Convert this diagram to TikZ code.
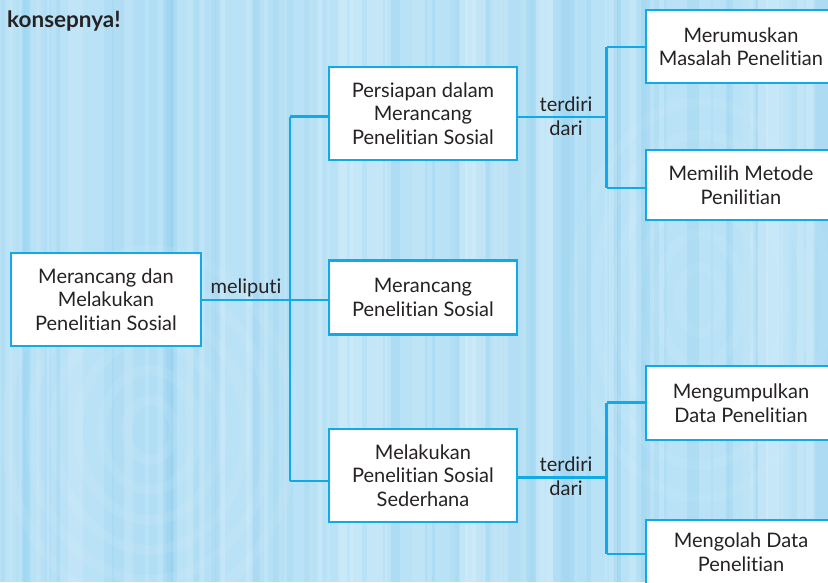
\documentclass[tikz,border=0pt]{standalone}
\usepackage{fontspec}
\setmainfont{Lato}[Ligatures={NoCommon,NoRequired,NoContextual}]
\definecolor{paper}{RGB}{186,226,246}
\definecolor{grain}{RGB}{135,203,238}
\definecolor{grainlight}{RGB}{220,241,251}
\definecolor{edge}{RGB}{16,170,232}
\definecolor{ink}{RGB}{38,34,35}
\begin{document}
\begin{tikzpicture}[x=1pt,y=-1pt,
  box/.style={draw=edge, line width=2.6pt, fill=white, align=center, text=ink,
    font=\fontsize{20}{23.5}\selectfont, inner sep=0pt},
  link/.style={draw=edge, line width=2.6pt},
  tag/.style={align=center, text=ink, font=\fontsize{20}{24.5}\selectfont, inner sep=0pt}]
% page and wood-grain background
\useasboundingbox (0,0) rectangle (828,582);
\clip (0,0) rectangle (828,582);
\fill[paper] (0,0) rectangle (828,582);
\pgfmathsetseed{11}
\foreach \i in {1,...,70}{
  \pgfmathsetmacro\xx{rnd*828}
  \pgfmathsetmacro\ww{2+rnd*14}
  \pgfmathsetmacro\oo{0.10+rnd*0.18}
  \fill[grain, opacity=\oo] (\xx,0) rectangle ++(\ww,582);
}
\foreach \i in {1,...,40}{
  \pgfmathsetmacro\xx{rnd*828}
  \pgfmathsetmacro\ww{3+rnd*18}
  \pgfmathsetmacro\oo{0.15+rnd*0.25}
  \fill[grainlight, opacity=\oo] (\xx,0) rectangle ++(\ww,582);
}
\foreach \r in {30,60,...,180}{
  \draw[grainlight, line width=10pt, opacity=0.12] (150,430) ellipse ({\r*0.8} and \r);
  \draw[grainlight, line width=10pt, opacity=0.10] (700,300) ellipse ({\r*0.7} and {\r*1.1});
}

% heading fragment
\node[anchor=base west, text=ink, font=\fontsize{22.5}{26}\selectfont\bfseries, inner sep=0pt]
  (head) at (7,27) {konsepnya!};

% boxes
\node[box, minimum width=190pt, minimum height=93pt] (root) at (106,299.5)
  {Merancang dan\\Melakukan\\Penelitian Sosial};
\node[box, minimum width=188pt, minimum height=93pt] (prep) at (423,113.5)
  {Persiapan dalam\\Merancang\\Penelitian Sosial};
\node[box, minimum width=188pt, minimum height=74pt] (design) at (423,297.5)
  {Merancang\\Penelitian Sosial};
\node[box, minimum width=188pt, minimum height=93pt] (conduct) at (423,475.5)
  {Melakukan\\Penelitian Sosial\\Sederhana};
\node[box, minimum width=190pt, minimum height=73pt] (c1) at (741,46.5)
  {Merumuskan\\Masalah Penelitian};
\node[box, minimum width=190pt, minimum height=70pt] (c2) at (741,185)
  {Memilih Metode\\Penilitian};
\node[box, minimum width=190pt, minimum height=74pt] (c3) at (741,403)
  {Mengumpulkan\\Data Penelitian};
\node[box, minimum width=190pt, minimum height=64pt] (c4) at (741,552)
  {Mengolah Data\\Penelitian};

% junction points
\coordinate (jt) at (290,116.5);
\coordinate (jm) at (290,300);
\coordinate (jb) at (290,481);
\coordinate (ut) at (606.5,47);
\coordinate (um) at (606.5,117);
\coordinate (ub) at (606.5,188);
\coordinate (lt) at (606.5,402.5);
\coordinate (lm) at (606.5,477.5);
\coordinate (lb) at (606.5,554);

% connectors
\draw[link] (jt) -- (jb);
\draw[link] (root.east |- jm) -- (design.west |- jm);
\draw[link] (jt) -- (prep.west |- jt);
\draw[link] (jb) -- (conduct.west |- jb);
\draw[link] (prep.east |- um) -- (um);
\draw[link] (ut) -- (ub);
\draw[link] (ut) -- (c1.west |- ut);
\draw[link] (ub) -- (c2.west |- ub);
\draw[link] (conduct.east |- lm) -- (lm);
\draw[link] (lt) -- (lb);
\draw[link] (lt) -- (c3.west |- lt);
\draw[link] (lb) -- (c4.west |- lb);

% connector labels
\node[tag, anchor=base] (meliputi) at (246,293) {meliputi};
\node[tag] (t1) at (566,116) {terdiri\\dari};
\node[tag] (t2) at (566,476) {terdiri\\dari};
\end{tikzpicture}
\end{document}
